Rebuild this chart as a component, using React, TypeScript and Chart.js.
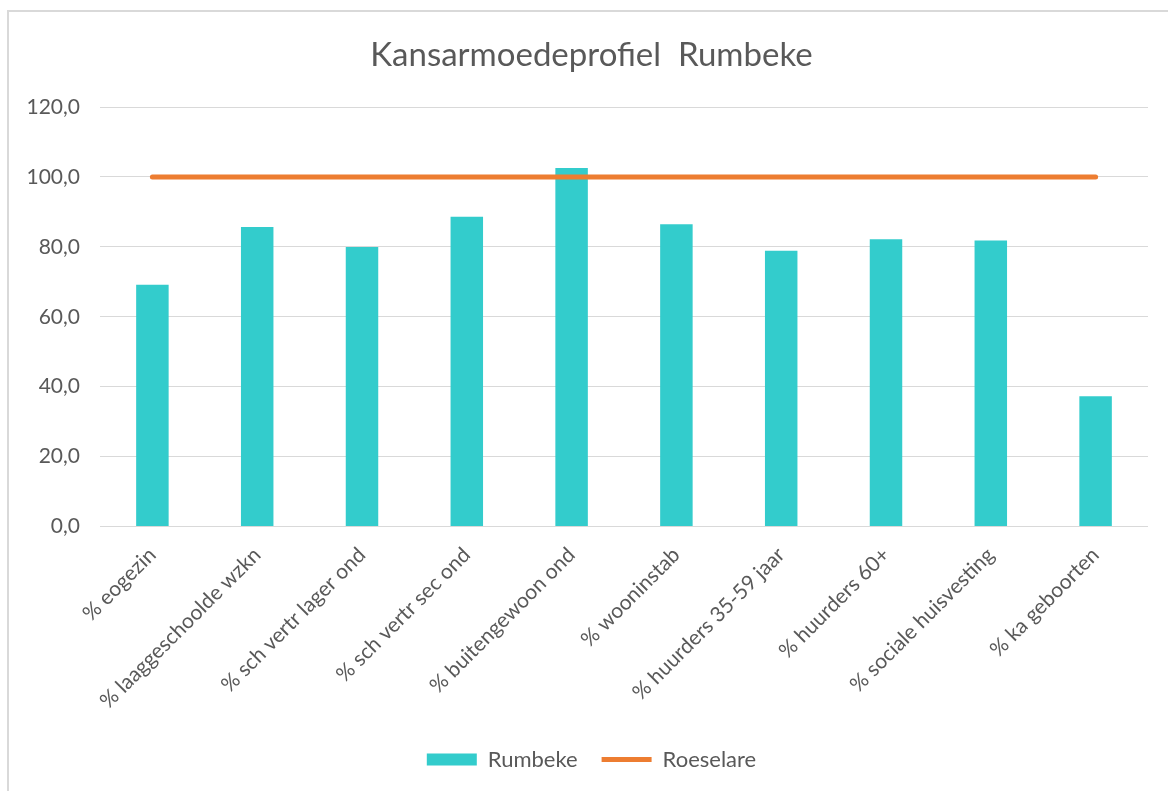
import React, { useEffect, useRef } from "react";
import { Chart, registerables } from "chart.js";

Chart.register(...registerables);

const categories = [
  "% eogezin",
  "% laaggeschoolde wzkn",
  "% sch vertr lager ond",
  "% sch vertr sec ond",
  "% buitengewoon ond",
  "% wooninstab",
  "% huurders 35-59 jaar",
  "% huurders 60+",
  "% sociale huisvesting",
  "% ka geboorten",
];
const rumbeke = [69.2, 85.7, 80.0, 88.6, 102.6, 86.5, 78.9, 82.2, 81.8, 37.3];
const roeselare = [100, 100, 100, 100, 100, 100, 100, 100, 100, 100];
const yTicks = [0, 20, 40, 60, 80, 100, 120];

const TEXT = "#595959";
const FONT = "Lato";

const unclipYLabels = {
  id: "unclipYLabels",
  afterLayout(chart: any) {
    const y = chart.scales.y;
    if (y) y.left = 0;
  },
};

export default function App() {
  const ref = useRef<HTMLCanvasElement | null>(null);

  useEffect(() => {
    if (!ref.current) return;
    const chart = new Chart(ref.current, {
      type: "bar",
      data: {
        labels: categories,
        datasets: [
          {
            type: "line",
            label: "Roeselare",
            data: roeselare,
            borderColor: "#ED7D31",
            backgroundColor: "#ED7D31",
            borderWidth: 5,
            borderCapStyle: "round",
            pointRadius: 0,
            pointStyle: "line",
            order: 0,
          } as any,
          {
            type: "bar",
            label: "Rumbeke",
            data: rumbeke,
            backgroundColor: "#33CCCC",
            borderWidth: 0,
            barPercentage: 0.31,
            categoryPercentage: 1,
            pointStyle: "rect",
            order: 1,
          } as any,
        ],
      },
      plugins: [unclipYLabels],
      options: {
        responsive: false,
        animation: false,
        layout: { padding: { left: 35, right: 20, top: 0, bottom: 10.5 } },
        plugins: {
          title: {
            display: true,
            text: "Kansarmoedeprofiel  Rumbeke",
            color: TEXT,
            font: { family: FONT, size: 33, weight: "normal" },
            padding: { top: 35.5, bottom: 32 },
          },
          legend: {
            position: "bottom",
            reverse: true,
            labels: {
              usePointStyle: true,
              pointStyleWidth: 50,
              boxHeight: 12,
              padding: 24,
              color: TEXT,
              font: { family: FONT, size: 22 },
            },
          },
          tooltip: { enabled: false },
        },
        scales: {
          x: {
            grid: { display: false },
            border: { display: false },
            ticks: {
              color: TEXT,
              font: { family: FONT, size: 21 },
              minRotation: 45,
              maxRotation: 45,
              autoSkip: false,
              padding: 8,
            },
            afterFit: (s: any) => {
              s.height = 198;
            },
          },
          y: {
            min: 0,
            max: 120,
            grid: { color: "#D9D9D9", lineWidth: 1, drawTicks: false },
            border: { display: false },
            afterBuildTicks: (s: any) => {
              s.ticks = yTicks.map((v) => ({ value: v }));
            },
            ticks: {
              color: TEXT,
              font: { family: FONT, size: 21 },
              padding: 20,
              callback: (v: any) => Number(v).toFixed(1).replace(".", ","),
            },
            afterFit: (s: any) => {
              s.width = 65;
            },
          },
        },
      },
    });
    return () => chart.destroy();
  }, []);

  return (
    <div
      style={{
        position: "fixed",
        left: 0,
        top: 0,
        width: 1168,
        height: 791,
        overflow: "hidden",
        background: "#fff",
      }}
    >
      <div
        style={{
          position: "absolute",
          left: 7,
          top: 10,
          width: 1300,
          height: 900,
          borderLeft: "2px solid #D9D9D9",
          borderTop: "2px solid #D9D9D9",
        }}
      />
      <canvas
        ref={ref}
        width={1168}
        height={791}
        style={{ position: "absolute", left: 0, top: 0, width: 1168, height: 791 }}
      />
    </div>
  );
}
